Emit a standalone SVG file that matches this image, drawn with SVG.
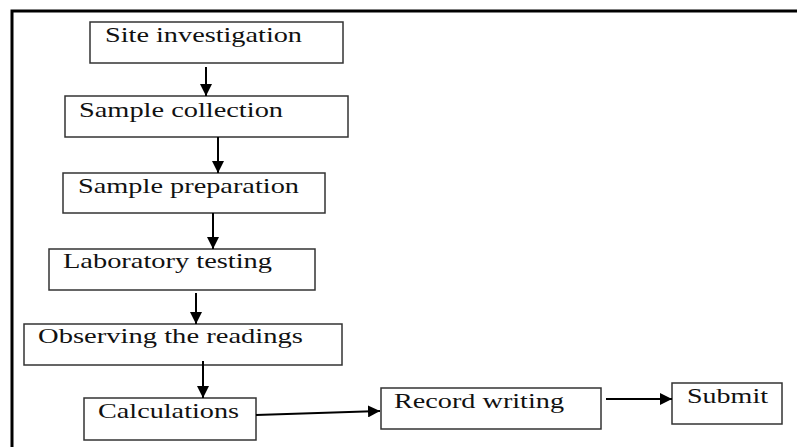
<svg xmlns="http://www.w3.org/2000/svg" width="797" height="447" viewBox="0 0 797 447">
<style>
.box{fill:#fff;stroke:#333;stroke-width:1.5}
.lbl{font-family:"Liberation Serif","Times New Roman",serif;font-size:21px;fill:#111}
.con{stroke:#000;stroke-width:2;fill:none}
</style>
<defs>
<marker id="ah" markerUnits="userSpaceOnUse" markerWidth="12" markerHeight="12" viewBox="0 0 12 12" refX="12" refY="6" orient="auto">
<path d="M0,0 L12,6 L0,12 Z" fill="#000"/>
</marker>
</defs>
<rect x="0" y="0" width="797" height="447" fill="#fff"/>
<path d="M12,450 L12,11 L800,11" fill="none" stroke="#000" stroke-width="3"/>
<g id="n1"><rect class="box" x="90" y="22" width="253" height="41"/><text class="lbl" x="105" y="42" textLength="197" lengthAdjust="spacingAndGlyphs">Site investigation</text></g>
<g id="n2"><rect class="box" x="65" y="96" width="283" height="41"/><text class="lbl" x="79" y="117" textLength="204" lengthAdjust="spacingAndGlyphs">Sample collection</text></g>
<g id="n3"><rect class="box" x="63" y="173" width="262" height="40"/><text class="lbl" x="78" y="193" textLength="221" lengthAdjust="spacingAndGlyphs">Sample preparation</text></g>
<g id="n4"><rect class="box" x="49" y="249" width="266" height="41"/><text class="lbl" x="63" y="268" textLength="209" lengthAdjust="spacingAndGlyphs">Laboratory testing</text></g>
<g id="n5"><rect class="box" x="24" y="324" width="318" height="41"/><text class="lbl" x="38" y="343" textLength="265" lengthAdjust="spacingAndGlyphs">Observing the readings</text></g>
<g id="n6"><rect class="box" x="84" y="398" width="172" height="42"/><text class="lbl" x="98" y="418" textLength="141" lengthAdjust="spacingAndGlyphs">Calculations</text></g>
<g id="n7"><rect class="box" x="381" y="388" width="220" height="41"/><text class="lbl" x="394" y="408" textLength="170" lengthAdjust="spacingAndGlyphs">Record writing</text></g>
<g id="n8"><rect class="box" x="672" y="383" width="110" height="41"/><text class="lbl" x="687" y="403" textLength="81" lengthAdjust="spacingAndGlyphs">Submit</text></g>
<g id="connectors">
<line class="con" x1="206" y1="67" x2="206" y2="96" marker-end="url(#ah)"/>
<line class="con" x1="218" y1="137" x2="218" y2="173" marker-end="url(#ah)"/>
<line class="con" x1="213" y1="213" x2="213" y2="249" marker-end="url(#ah)"/>
<line class="con" x1="196" y1="293" x2="196" y2="324" marker-end="url(#ah)"/>
<line class="con" x1="203" y1="361" x2="203" y2="398" marker-end="url(#ah)"/>
<line class="con" x1="256" y1="415" x2="380" y2="411" marker-end="url(#ah)"/>
<line class="con" x1="606" y1="399" x2="672" y2="399" marker-end="url(#ah)"/>
</g>
</svg>
